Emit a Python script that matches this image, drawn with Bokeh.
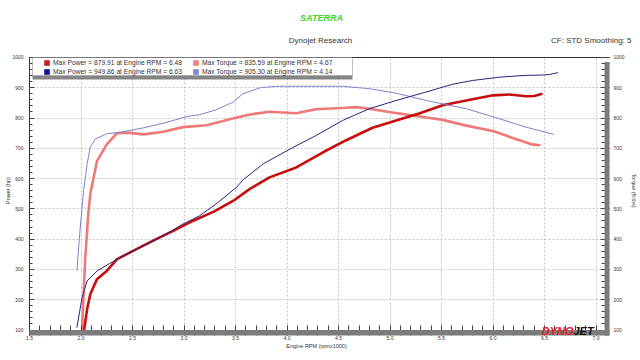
import math
from bokeh.plotting import figure
from bokeh.models import (Range1d, LinearAxis, SingleIntervalTicker, FixedTicker, Label,
                          Legend, LegendItem, BoxAnnotation, PrintfTickFormatter)
from bokeh.embed import file_html
from bokeh.resources import INLINE

# ---------------- data ----------------
run1_power_rpm = [2.03, 2.06, 2.09, 2.155, 2.25, 2.35, 2.51, 2.70, 2.90, 3.09, 3.29, 3.48, 3.64, 3.83,
                  4.09, 4.35, 4.57, 4.83, 5.06, 5.29, 5.51, 5.74, 6.00, 6.16, 6.32, 6.40, 6.48]
run1_power_hp = [100, 170, 218, 268, 295, 334, 362, 395, 428, 461, 491, 527, 566, 604,
                 637, 687, 726, 768, 792, 816, 842, 858, 875, 878, 872, 873, 880]

run1_torque_rpm = [2.01, 2.04, 2.07, 2.09, 2.155, 2.25, 2.35, 2.45, 2.61, 2.80, 2.99, 3.22, 3.48, 3.64,
                   3.83, 4.09, 4.28, 4.57, 4.67, 4.80, 4.99, 5.09, 5.29, 5.51, 5.74, 6.00, 6.22, 6.38, 6.46]
run1_torque_ftlb = [100, 330, 480, 549, 658, 713, 750, 752, 746, 755, 770, 776, 799, 812,
                    821, 816, 829, 834, 836, 831, 820, 815, 805, 794, 775, 757, 731, 713, 710]

run2_power_rpm = [1.96, 2.01, 2.06, 2.155, 2.28, 2.38, 2.61, 2.80, 2.99, 3.15, 3.31, 3.51, 3.57, 3.77,
                  4.03, 4.28, 4.54, 4.80, 5.06, 5.35, 5.60, 5.80, 6.06, 6.32, 6.48, 6.55, 6.63]
run2_power_hp = [108, 207, 262, 295, 320, 339, 378, 411, 450, 477, 516, 571, 595, 649,
                 698, 742, 792, 831, 858, 886, 911, 924, 935, 941, 942, 944, 950]

run2_torque_rpm = [1.96, 1.99, 2.025, 2.06, 2.09, 2.14, 2.25, 2.38, 2.61, 2.80, 3.03, 3.15, 3.31,
                   3.48, 3.57, 3.74, 3.90, 4.14, 4.54, 4.80, 5.06, 5.38, 5.74, 6.06, 6.32, 6.59]
run2_torque_ftlb = [295, 428, 560, 649, 704, 731, 748, 753, 768, 783, 805, 811, 827,
                    853, 880, 900, 905, 905, 905, 897, 882, 856, 831, 798, 770, 746]

# legend summary values (run 1, run 2)
max_power_hp = [879.91, 949.86]
max_power_at = [6.48, 6.63]
max_torque_ftlb = [835.59, 905.30]
max_torque_at = [4.67, 4.14]

power_colors = ["#c81e1e", "#10109a"]
torque_colors = ["#ee7f7f", "#8585d6"]

# ---------------- layout constants ----------------
FONT = "Liberation Sans"
TXT = "#333333"
X_LEFT, X_RIGHT = 1.2184, 7.432        # whole canvas
Y_BOTTOM, Y_TOP = -0.73, 1188.25       # whole canvas
X_MIN, X_BOX = 1.5, 7.131              # chart box left / right edge
Y_BAR, Y_MIN, Y_MAX = 82, 100, 1000    # chart box bottom / axis / top
BAR_X = 7.083
BAR_COLOR = "#7c7c7c"

p = figure(width=640, height=360, output_backend="svg", toolbar_location=None,
           x_range=Range1d(X_LEFT, X_RIGHT), y_range=Range1d(Y_BOTTOM, Y_TOP),
           min_border=0, background_fill_color="white", border_fill_color="white",
           outline_line_color=None)

xt = SingleIntervalTicker(interval=0.5, num_minor_ticks=5)
yt = SingleIntervalTicker(interval=100, num_minor_ticks=5)

# bottom axis (fixed at the bottom of the gray bar, ticks pointing up)
xa = p.xaxis[0]
xa.ticker = xt
xa.formatter = PrintfTickFormatter(format="%.1f")
xa.fixed_location = Y_BAR
xa.bounds = (X_MIN, X_BOX)
xa.axis_line_color = None
xa.major_tick_in = 10
xa.major_tick_out = 0
xa.minor_tick_in = 10
xa.minor_tick_out = 0
xa.major_tick_line_color = "#444444"
xa.minor_tick_line_color = "#444444"
xa.major_label_standoff = 1
xa.major_label_text_font = FONT
xa.major_label_text_font_size = "5px"
xa.major_label_text_color = TXT

# left axis
ya = p.yaxis[0]
ya.ticker = yt
ya.fixed_location = X_MIN
ya.bounds = (Y_BAR, Y_MAX)
ya.axis_line_color = "#333333"
ya.major_tick_in = 5
ya.major_tick_out = 0
ya.minor_tick_in = 3
ya.minor_tick_out = 0
ya.major_tick_line_color = "#444444"
ya.minor_tick_line_color = "#444444"
ya.major_label_standoff = 6
ya.major_label_text_font = FONT
ya.major_label_text_font_size = "5px"
ya.major_label_text_color = TXT

# right axis
ra = LinearAxis(ticker=yt, fixed_location=X_BOX, bounds=(Y_BAR, Y_MAX), axis_line_color=None,
                major_tick_in=9, major_tick_out=0, minor_tick_in=8, minor_tick_out=0,
                major_tick_line_color="#444444", minor_tick_line_color="#444444",
                major_label_standoff=4, major_label_text_font=FONT,
                major_label_text_font_size="5px", major_label_text_color=TXT)
p.add_layout(ra, "right")

# top border line of the chart box
ta = LinearAxis(ticker=FixedTicker(ticks=[]), fixed_location=Y_MAX, bounds=(X_MIN, X_BOX),
                axis_line_color="#333333", axis_line_width=1,
                major_tick_in=0, major_tick_out=0, minor_tick_in=0, minor_tick_out=0)
p.add_layout(ta, "above")

for g, t in ((p.xgrid[0], xt), (p.ygrid[0], yt)):
    g.ticker = t
    g.grid_line_color = "#c4c4c4"
    g.grid_line_dash = "2 2"
    g.grid_line_width = 1

# white margins around the chart box (hide grid lines outside it)
for l, r, b, t in ((X_LEFT, X_MIN, Y_BOTTOM, Y_TOP), (X_BOX, X_RIGHT, Y_BOTTOM, Y_TOP),
                   (X_LEFT, X_RIGHT, Y_MAX, Y_TOP), (X_LEFT, X_RIGHT, Y_BOTTOM, Y_BAR)):
    p.add_layout(BoxAnnotation(left=l, right=r, bottom=b, top=t, level="underlay",
                               fill_color="white", fill_alpha=1, line_color=None))

# ---------------- curves ----------------
p.line(run1_torque_rpm, run1_torque_ftlb, line_color="#ee7272", line_width=2.6, line_alpha=0.95)
p.line(run1_power_rpm, run1_power_hp, line_color="#c40000", line_width=2.6, line_alpha=0.95)
p.line(run2_torque_rpm, run2_torque_ftlb, line_color="#8080d0", line_width=1)
p.line(run2_power_rpm, run2_power_hp, line_color="#26267e", line_width=1)

# ---------------- frame bars ----------------
p.add_layout(BoxAnnotation(left=X_MIN, right=X_BOX, bottom=Y_BAR, top=Y_MIN,
                           fill_color=BAR_COLOR, fill_alpha=1, line_color=None))
p.add_layout(BoxAnnotation(left=BAR_X, right=X_BOX, bottom=Y_BAR, top=985,
                           fill_color=BAR_COLOR, fill_alpha=1, line_color=None))

# ---------------- legend ----------------
p.add_layout(BoxAnnotation(left=1.529, right=4.636, bottom=927.3, top=940.5,
                           fill_color="#858585", fill_alpha=1, line_color=None))
p.add_layout(BoxAnnotation(left=1.529, right=4.636, bottom=940.5, top=Y_MAX,
                           fill_color="white", fill_alpha=1, line_color="#333333", line_width=1))

items = []
for i in range(2):
    rp = p.quad(left=[max_power_at[i]], right=[max_power_at[i]],
                top=[max_power_hp[i]], bottom=[max_power_hp[i]],
                fill_color=power_colors[i], line_color=None)
    rt = p.quad(left=[max_torque_at[i]], right=[max_torque_at[i]],
                top=[max_torque_ftlb[i]], bottom=[max_torque_ftlb[i]],
                fill_color=torque_colors[i], line_color=None)
    items.append(LegendItem(label=f"Max Power = {max_power_hp[i]:.2f} at Engine RPM = {max_power_at[i]:.2f}",
                            renderers=[rp]))
    items.append(LegendItem(label=f"Max Torque = {max_torque_ftlb[i]:.2f} at Engine RPM = {max_torque_at[i]:.2f}",
                            renderers=[rt]))

leg = Legend(items=items, location=(43, 285), orientation="horizontal", nrows=2,
             padding=0, margin=0, spacing=1, label_height=8, label_width=138,
             glyph_width=7, glyph_height=7, label_standoff=3,
             label_text_font=FONT, label_text_font_size="6.7px", label_text_color=TXT,
             border_line_color=None, background_fill_alpha=0)
p.add_layout(leg)

# ---------------- texts (screen position within the canvas) ----------------
def lab(x, y, text, size, color=TXT, align="center", style="normal", baseline="middle", angle=0.0):
    p.add_layout(Label(x=x, y=y, x_units="screen", y_units="screen", text=text,
                       text_font=FONT, text_font_size=size, text_color=color,
                       text_align=align, text_baseline=baseline, text_font_style=style,
                       angle=angle))

lab(321, 343, "SATERRA", "9px", color="#33d633", style="bold italic")
lab(320, 320, "Dynojet Research", "8px")
lab(631, 320, "CF: STD Smoothing: 5", "8px", align="right")
lab(7, 170, "Power (hp)", "5.5px", angle=math.pi / 2)
lab(633, 170, "Torque (ft-lbs)", "5.5px", angle=-math.pi / 2)
lab(316, 15, "Engine RPM (rpmx1000)", "5.5px")
lab(573, 30, "DYNO", "11px", color="#e0202a", align="right", style="bold italic", baseline="alphabetic")
lab(573, 30, "JET", "11px", color="#111111", align="left", style="bold italic", baseline="alphabetic")

open("out.html", "w").write(file_html(p, INLINE))
